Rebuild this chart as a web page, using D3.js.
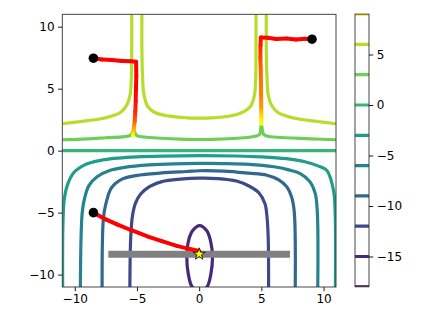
<!DOCTYPE html>
<html>
<head>
<meta charset="utf-8">
<script src="https://cdn.jsdelivr.net/npm/d3@7"></script>
<style>
	body { margin: 0; background: #fff; }
	text { font-family: "DejaVu Sans", sans-serif; }
</style>
</head>
<body>
<div id="chart"></div>
<script>

// contour levels (shown on the colorbar)
var levels = [-18, -15, -12, -9, -6, -3, 0, 3, 6, 9];
var axis_ticks = [-10, -5, 0, 5, 10];
var cbar_ticks = [-15, -10, -5, 0, 5];

// contour lines as [x, y]
var level_6_left = [[-11, 2.17], [-9.5, 2.35], [-8, 2.55], [-7, 2.8], [-6.3, 3.1], [-5.8, 3.7], [-5.55, 4.5],
	[-5.45, 6], [-5.42, 8], [-5.42, 11.5]];
var level_6_mid = [[-4.6, 11.5], [-4.6, 8], [-4.55, 6], [-4.45, 4.6], [-4.15, 3.6], [-3.6, 3.1], [-2.5, 2.8],
	[-1, 2.65], [0, 2.62], [1, 2.64], [2.5, 2.8], [3.6, 3.15], [4.15, 3.6], [4.45, 4.5], [4.55, 6],
	[4.57, 8], [4.57, 11.5]];
var level_6_right = [[5.4, 11.5], [5.4, 8], [5.45, 6], [5.55, 4.5], [5.8, 3.7], [6.3, 3.1], [7, 2.8],
	[8, 2.55], [9.5, 2.35], [11, 2.17]];
var level_3 = [[-11, 0.88], [-9, 0.95], [-7.5, 1.04], [-6, 1.13], [-5.5, 1.25], [-5.25, 1.65], [-5.05, 1.25],
	[-4.4, 1.1], [-3, 1.0], [-1.5, 0.93], [0, 0.9], [1.5, 0.93], [3, 1.0], [4.3, 1.12], [4.85, 1.3],
	[5.0, 2.1], [5.2, 1.3], [5.8, 1.12], [7.5, 1.02], [9, 0.95], [11, 0.88]];
var level_0 = [[-11.5, 0], [11.5, 0]];
var level_m3 = [[-10.97, -11.5], [-10.95, -6], [-10.85, -4], [-10.6, -2.8], [-10.1, -1.8], [-9.2, -1.15],
	[-8, -0.8], [-6.5, -0.6], [-5, -0.5], [-3, -0.44], [0, -0.4], [3, -0.43], [5, -0.5], [7, -0.65],
	[8.5, -0.9], [9.6, -1.25], [10.27, -1.6], [10.8, -3.2], [10.93, -5], [10.95, -11.5]];
var level_m6 = [[-9.55, -11.5], [-9.4, -5], [-9.2, -3.8], [-8.85, -2.8], [-8.2, -2.1], [-7.2, -1.6],
	[-6, -1.35], [-4, -1.15], [-2, -1.06], [0, -1.03], [2, -1.04], [4, -1.1], [6, -1.3], [7.2, -1.55],
	[8.13, -1.85], [8.9, -2.5], [9.33, -3.45], [9.5, -5], [9.53, -11.5]];
var level_m9 = [[-7.8, -11.5], [-7.7, -5.5], [-7.5, -4.3], [-7.05, -3.0], [-6.2, -2.3], [-5, -2.0],
	[-3, -1.8], [-1, -1.68], [0, -1.62], [2, -1.65], [4, -1.82], [5.45, -1.98], [6.4, -2.35],
	[7.05, -2.92], [7.45, -3.8], [7.65, -5], [7.72, -11.5]];
var level_m12 = [[-5.57, -11.5], [-5.5, -7], [-5.35, -5.2], [-5.1, -4.2], [-4.7, -3.5], [-4, -2.9],
	[-3, -2.5], [-1.5, -2.3], [0, -2.22], [1.5, -2.25], [3, -2.45], [4, -2.85], [4.8, -3.4],
	[5.3, -4.3], [5.45, -5.3], [5.55, -7], [5.58, -11.5]];
var level_m15 = [[0.04, -6.05], [0.6, -6.45], [0.92, -7.3], [1.07, -8.6], [0.95, -9.9], [0.62, -11],
	[0.04, -11.25], [-0.55, -11], [-0.88, -9.9], [-0.99, -8.6], [-0.86, -7.3], [-0.52, -6.45]];

// descent paths: [x, y, colour step 0 = red .. 1 = yellow]
var path_a = [[-8.5, 7.46, 0], [-7.8, 7.36, 0], [-7, 7.32, 0], [-6.2, 7.24, 0], [-5.5, 7.22, 0],
	[-5.07, 7.18, 0], [-5.05, 6, 0], [-5.08, 5, 0], [-5.1, 4, 0.05], [-5.13, 3.2, 0.15],
	[-5.18, 2.4, 0.35], [-5.25, 1.8, 0.65], [-5.33, 1.23, 1]];
var path_b = [[9.07, 8.99, 0], [8.5, 9.02, 0], [7.8, 8.96, 0], [7, 9.05, 0], [6.2, 9.0, 0], [5.5, 9.1, 0],
	[4.96, 9.12, 0], [4.93, 8.5, 0.12], [4.92, 7.5, 0.28], [4.95, 6.5, 0.4], [4.97, 5.5, 0.45],
	[4.98, 4.5, 0.5], [4.99, 3.5, 0.6], [5.0, 2.8, 0.85], [5.0, 2.17, 1]];
var path_c = [[-8.5, -5.0, 0], [-7.5, -5.55, 0], [-6.6, -5.95, 0], [-5.5, -6.4, 0], [-4, -6.97, 0],
	[-3, -7.3, 0], [-1.8, -7.68, 0], [-0.9, -7.9, 0], [0, -8.1, 0.05]];

// constraint bar and the optimum marker
var bar_x = [-7.3, 7.3];
var bar_y = -8.35;
var optimum = [0, -8.35];

var contour_lines = [
	{level: 6, pts: level_6_left}, {level: 6, pts: level_6_mid}, {level: 6, pts: level_6_right},
	{level: 3, pts: level_3}, {level: 0, pts: level_0}, {level: -3, pts: level_m3},
	{level: -6, pts: level_m6}, {level: -9, pts: level_m9}, {level: -12, pts: level_m12}
];
var paths = [path_a, path_b, path_c];

// Chart
var width = 423, height = 317;
var plot = {left: 62.3, right: 336, top: 14.3, bottom: 287};
var cbar = {left: 355, right: 369, top: 14.1, bottom: 286.8};

var x = d3.scaleLinear().domain([-11, 11]).range([plot.left, plot.right]);
var y = d3.scaleLinear().domain([-11, 11]).range([plot.bottom, plot.top]);
var cb = d3.scaleLinear().domain([-18, 9]).range([cbar.bottom, cbar.top]);
var color = function(l) { return d3.interpolateViridis((l + 18) / 27); };
var heat = d3.interpolateRgb("#ff0000", "#ffff00");

var svg = d3.select("#chart").append("svg")
	.attr("width", width)
	.attr("height", height);

var defs = svg.append("defs");
defs.append("clipPath").attr("id", "clip-plot")
	.append("rect")
	.attr("x", plot.left).attr("y", plot.top)
	.attr("width", plot.right - plot.left).attr("height", plot.bottom - plot.top);
defs.append("clipPath").attr("id", "clip-cbar")
	.append("rect")
	.attr("x", cbar.left).attr("y", cbar.top)
	.attr("width", cbar.right - cbar.left).attr("height", cbar.bottom - cbar.top);

var inner = svg.append("g").attr("clip-path", "url(#clip-plot)");

var line = d3.line()
	.x(function(d) { return x(d[0]); })
	.y(function(d) { return y(d[1]); })
	.curve(d3.curveCatmullRom.alpha(0.5));

// contours
inner.selectAll(".contour")
	.data(contour_lines)
	.enter().append("path")
	.attr("class", "contour")
	.attr("d", function(d) { return line(d.pts); })
	.attr("fill", "none")
	.attr("stroke", function(d) { return color(d.level); })
	.attr("stroke-width", 3.2);

inner.append("path")
	.attr("d", d3.line()
		.x(function(d) { return x(d[0]); })
		.y(function(d) { return y(d[1]); })
		.curve(d3.curveCatmullRomClosed.alpha(0.5))(level_m15))
	.attr("fill", "none")
	.attr("stroke", color(-15))
	.attr("stroke-width", 3.2);

// constraint bar
inner.append("line")
	.attr("x1", x(bar_x[0])).attr("x2", x(bar_x[1]))
	.attr("y1", y(bar_y)).attr("y2", y(bar_y))
	.attr("stroke", "#808080")
	.attr("stroke-width", 7);

// descent paths, each piece gets its own gradient
var gid = 0;
paths.forEach(function(p) {
	for (var i = 0; i < p.length - 1; i++) {
		var a = p[i], b = p[i + 1];
		var id = "g" + (gid++);
		var grad = defs.append("linearGradient")
			.attr("id", id)
			.attr("gradientUnits", "userSpaceOnUse")
			.attr("x1", x(a[0])).attr("y1", y(a[1]))
			.attr("x2", x(b[0])).attr("y2", y(b[1]));
		grad.append("stop").attr("offset", 0).attr("stop-color", heat(a[2]));
		grad.append("stop").attr("offset", 1).attr("stop-color", heat(b[2]));
		inner.append("line")
			.attr("x1", x(a[0])).attr("y1", y(a[1]))
			.attr("x2", x(b[0])).attr("y2", y(b[1]))
			.attr("stroke", a[2] === b[2] ? heat(a[2]) : "url(#" + id + ")")
			.attr("stroke-width", 4)
			.attr("stroke-linecap", "round");
	}
});

// start points
inner.selectAll(".start")
	.data(paths)
	.enter().append("circle")
	.attr("class", "start")
	.attr("cx", function(p) { return x(p[0][0]); })
	.attr("cy", function(p) { return y(p[0][1]); })
	.attr("r", 4.8)
	.attr("fill", "#000");

// optimum star
inner.append("path")
	.attr("d", d3.symbol().type(d3.symbolStar).size(45)())
	.attr("transform", "translate(" + x(optimum[0]) + "," + y(optimum[1]) + ")")
	.attr("fill", "#ffff00")
	.attr("stroke", "#000")
	.attr("stroke-width", 0.8);

// axes
var x_axis = svg.append("g")
	.attr("transform", "translate(0," + plot.bottom + ")")
	.call(d3.axisBottom(x).tickValues(axis_ticks).tickSize(4.2).tickPadding(3.5));
var y_axis = svg.append("g")
	.attr("transform", "translate(" + plot.left + ",0)")
	.call(d3.axisLeft(y).tickValues(axis_ticks).tickSize(4.2).tickPadding(3.5));
[x_axis, y_axis].forEach(function(g) {
	g.select(".domain").remove();
	g.selectAll("text").attr("font-size", 12).attr("font-family", "DejaVu Sans").attr("fill", "#000");
	g.selectAll("line").attr("stroke", "#000").attr("stroke-width", 0.9);
});

svg.append("rect")
	.attr("x", plot.left).attr("y", plot.top)
	.attr("width", plot.right - plot.left).attr("height", plot.bottom - plot.top)
	.attr("fill", "none")
	.attr("stroke", "#333")
	.attr("stroke-width", 0.9);

// colorbar
var cbar_g = svg.append("g").attr("clip-path", "url(#clip-cbar)");
cbar_g.selectAll(".cline")
	.data(levels)
	.enter().append("line")
	.attr("class", "cline")
	.attr("x1", cbar.left).attr("x2", cbar.right)
	.attr("y1", function(d) { return cb(d); })
	.attr("y2", function(d) { return cb(d); })
	.attr("stroke", function(d) { return color(d); })
	.attr("stroke-width", 3.2);

svg.append("rect")
	.attr("x", cbar.left).attr("y", cbar.top)
	.attr("width", cbar.right - cbar.left).attr("height", cbar.bottom - cbar.top)
	.attr("fill", "none")
	.attr("stroke", "#333")
	.attr("stroke-width", 0.9);

var c_axis = svg.append("g")
	.attr("transform", "translate(" + cbar.right + ",0)")
	.call(d3.axisRight(cb).tickValues(cbar_ticks).tickSize(4.2).tickPadding(3.5));
c_axis.select(".domain").remove();
c_axis.selectAll("text").attr("font-size", 12).attr("font-family", "DejaVu Sans").attr("fill", "#000");
c_axis.selectAll("line").attr("stroke", "#000").attr("stroke-width", 0.9);

</script>
</body>
</html>
